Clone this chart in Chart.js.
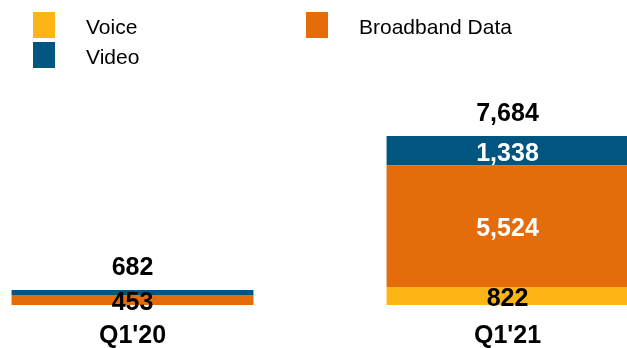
<!DOCTYPE html>
<html>
<head>
<meta charset="utf-8">
<script src="https://cdn.jsdelivr.net/npm/chart.js@4/dist/chart.umd.min.js"></script>
<style>
  html, body { margin: 0; padding: 0; background: #ffffff; }
  canvas { display: block; }
</style>
</head>
<body>
<canvas id="chart" width="627" height="348"></canvas>
<script>
// Quarterly subscribers by service line (thousands)
const categories = ["Q1'20", "Q1'21"];
const voice = [0, 822];
const broadband = [453, 5524];
const video = [229, 1338];

const FONT = "'Liberation Sans', Arial, Helvetica, sans-serif";
const COLORS = { voice: '#FDB515', broadband: '#E46C0A', video: '#005581' };

const fmt = v => v.toLocaleString('en-US');

// Legend laid out in two columns: Voice / Video, then Broadband Data
const legendPlugin = {
  id: 'columnLegend',
  afterDraw(chart) {
    const ctx = chart.ctx;
    const slots = {
      'Voice': { x: 33, y: 12 },
      'Video': { x: 33, y: 42 },
      'Broadband Data': { x: 306, y: 12 }
    };
    ctx.save();
    ctx.font = '21px ' + FONT;
    ctx.textBaseline = 'middle';
    ctx.textAlign = 'left';
    chart.data.datasets.forEach(ds => {
      const s = slots[ds.label];
      if (!s) return;
      ctx.fillStyle = ds.backgroundColor;
      ctx.fillRect(s.x, s.y, 22, 26);
      ctx.fillStyle = '#000000';
      ctx.fillText(ds.label, s.x + 53, s.y + 16);
    });
    ctx.restore();
  }
};

// Segment values inside the bars and stack totals above them
const valuePlugin = {
  id: 'values',
  afterDatasetsDraw(chart) {
    const ctx = chart.ctx;
    ctx.save();
    ctx.font = 'bold 25px ' + FONT;
    ctx.textAlign = 'center';
    ctx.textBaseline = 'middle';
    const n = chart.data.labels.length;
    for (let i = 0; i < n; i++) {
      let topY = Infinity, x = 0, total = 0;
      chart.data.datasets.forEach((ds, d) => {
        const el = chart.getDatasetMeta(d).data[i];
        const v = ds.data[i];
        total += v;
        x = el.x;
        topY = Math.min(topY, el.y);
        const h = Math.abs(el.base - el.y);
        if (v > 0 && h >= 8) {
          ctx.fillStyle = ds.labelColors[i];
          ctx.fillText(fmt(v), el.x, (el.y + el.base) / 2 + 3);
        }
      });
      ctx.fillStyle = '#000000';
      ctx.fillText(fmt(total), x, topY - 22);
    }
    ctx.restore();
  }
};

new Chart(document.getElementById('chart'), {
  type: 'bar',
  data: {
    labels: categories,
    datasets: [
      { label: 'Voice', data: voice, backgroundColor: COLORS.voice, labelColors: ['#000000', '#000000'] },
      { label: 'Broadband Data', data: broadband, backgroundColor: COLORS.broadband, labelColors: ['#000000', '#ffffff'] },
      { label: 'Video', data: video, backgroundColor: COLORS.video, labelColors: ['#ffffff', '#ffffff'] }
    ]
  },
  options: {
    responsive: false,
    animation: false,
    devicePixelRatio: 1,
    layout: { padding: { top: 85, left: 132.5, right: 119.5, bottom: 0 } },
    datasets: { bar: { categoryPercentage: 1, barPercentage: 0.645, borderWidth: 0, clip: false } },
    plugins: { legend: { display: false }, tooltip: { enabled: false } },
    scales: {
      x: {
        stacked: true,
        offset: false,
        grid: { display: false, drawTicks: false },
        border: { display: false },
        ticks: { color: '#000000', font: { family: FONT, size: 25, weight: 'bold', lineHeight: 1 }, padding: 19 },
        afterFit(scale) { scale.height = 43; }
      },
      y: {
        stacked: true,
        display: false,
        min: 0,
        max: 10000
      }
    }
  },
  plugins: [legendPlugin, valuePlugin]
});
</script>
</body>
</html>
